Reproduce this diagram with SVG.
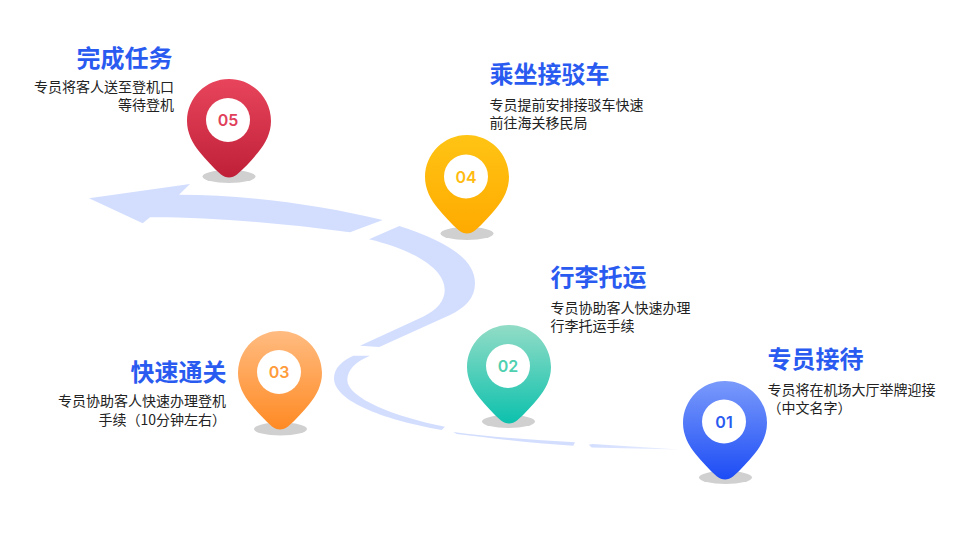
<svg xmlns="http://www.w3.org/2000/svg" width="960" height="540" viewBox="0 0 960 540">
<style>
text{font-family:"Noto Sans CJK SC","Noto Sans",sans-serif}
.t{font-size:24px;font-weight:700;fill:#2a5bf0}
.b{font-size:14px;fill:#222}
.r{text-anchor:end}
.n{font-family:"Inter","Noto Sans",sans-serif;font-size:16px;font-weight:600;text-anchor:middle}
.s{fill:#d0d0d0}
.c{fill:#fff}
.band{fill:#d3deff}
</style>
<defs>
<path id="pin" d="M0,-41C23.2,-41 42,-22.2 42,1C42,13 36.5,23.5 29,32.5C23,39.8 16,47.5 8,54.5C3,58.5 -3,58.5 -8,54.5C-16,47.5 -23,39.8 -29,32.5C-36.5,23.5 -42,13 -42,1C-42,-22.2 -23.2,-41 0,-41Z"/>
<linearGradient id="g5" x1="0" y1="0" x2="0" y2="1"><stop offset="0" stop-color="#e8455c"/><stop offset="1" stop-color="#bf2038"/></linearGradient>
<linearGradient id="g4" x1="0" y1="0" x2="0" y2="1"><stop offset="0" stop-color="#ffc414"/><stop offset="1" stop-color="#ffaa00"/></linearGradient>
<linearGradient id="g3" x1="0" y1="0" x2="0" y2="1"><stop offset="0" stop-color="#ffbb80"/><stop offset="1" stop-color="#ff8a24"/></linearGradient>
<linearGradient id="g2" x1="0" y1="0" x2="0" y2="1"><stop offset="0" stop-color="#92dcc6"/><stop offset="1" stop-color="#0cc1ad"/></linearGradient>
<linearGradient id="g1" x1="0" y1="0" x2="0" y2="1"><stop offset="0" stop-color="#7a9afb"/><stop offset="1" stop-color="#1c4cf5"/></linearGradient>
<linearGradient id="fade" gradientUnits="userSpaceOnUse" x1="589" y1="0" x2="680" y2="0"><stop offset="0" stop-color="#d3deff"/><stop offset="1" stop-color="#d3deff" stop-opacity=".5"/></linearGradient>
</defs>
<g id="connectors">
<path class="band" d="M89,198.3L190,184L179,194.7C250,195 320,205 382.7,220L350,232.3C280,223 210,217 150,217.3L142.7,223.3Z"/>
<path class="band" d="M399.3,226C445,241 475,258 475,283.3C475,298 465,308 450,315L379.3,347L360,345.7L423,316.7C437,310 444.7,301 444.7,290C444.7,267 410,249 369,239.3Z"/>
<path class="band" d="M353.3,355.7L370,355.7C355,362 347.3,370 347.3,380C347.3,398 395,417 445,426.7L441.7,430C400,423 334,405 334,378.3C334,368 342,361 353.3,355.7Z"/>
<path class="band" d="M453.3,432C490,437 535,440 575,442.3L573.3,445.7C530,443 490,438 456.7,434Z"/>
<path d="M588.7,444.7L592.7,444L679,449.500L591.7,447.500Z" fill="url(#fade)"/>
</g>
<g id="node-05">
<ellipse class="s" cx="229" cy="176.5" rx="26.5" ry="6.5"/>
<use href="#pin" x="229" y="120" fill="url(#g5)"/>
<circle class="c" cx="228" cy="120" r="22"/>
<text class="n" x="228" y="126" fill="#e0405a">05</text>
<text class="t r" x="172.500" y="66.500">完成任务</text>
<text class="b r" x="174" y="91.500">专员将客人送至登机口</text>
<text class="b r" x="174" y="109.500">等待登机</text>
</g>
<g id="node-04">
<ellipse class="s" cx="467" cy="233.5" rx="26.5" ry="6.5"/>
<use href="#pin" x="467" y="176" fill="url(#g4)"/>
<circle class="c" cx="466" cy="176.5" r="22"/>
<text class="n" x="466" y="182.5" fill="#ffbb10">04</text>
<text class="t" x="489.500" y="82.500">乘坐接驳车</text>
<text class="b" x="489.500" y="109.500">专员提前安排接驳车快速</text>
<text class="b" x="489.500" y="127.500">前往海关移民局</text>
</g>
<g id="node-03">
<ellipse class="s" cx="280.500" cy="429" rx="26.5" ry="6.5"/>
<use href="#pin" x="280" y="372" fill="url(#g3)"/>
<circle class="c" cx="279" cy="372" r="22"/>
<text class="n" x="279" y="378" fill="#ff9b3a">03</text>
<text class="t r" x="226.500" y="381">快速通关</text>
<text class="b r" x="226" y="406">专员协助客人快速办理登机</text>
<text class="b r" x="226" y="425">手续（10分钟左右）</text>
</g>
<g id="node-02">
<ellipse class="s" cx="508.500" cy="421.5" rx="26.5" ry="6.5"/>
<use href="#pin" x="509" y="366" fill="url(#g2)"/>
<circle class="c" cx="508" cy="366" r="22"/>
<text class="n" x="508" y="372" fill="#4fd0b0">02</text>
<text class="t" x="550.500" y="286">行李托运</text>
<text class="b" x="550.500" y="313">专员协助客人快速办理</text>
<text class="b" x="550.500" y="331">行李托运手续</text>
</g>
<g id="node-01">
<ellipse class="s" cx="725.500" cy="477.5" rx="26.5" ry="6.5"/>
<use href="#pin" x="725" y="422" fill="url(#g1)"/>
<circle class="c" cx="724" cy="421.5" r="22"/>
<text class="n" x="724" y="427.5" fill="#2a5bf0">01</text>
<text class="t" x="767.500" y="368">专员接待</text>
<text class="b" x="767.500" y="395">专员将在机场大厅举牌迎接</text>
<text class="b" x="767.500" y="413">（中文名字）</text>
</g>
</svg>
